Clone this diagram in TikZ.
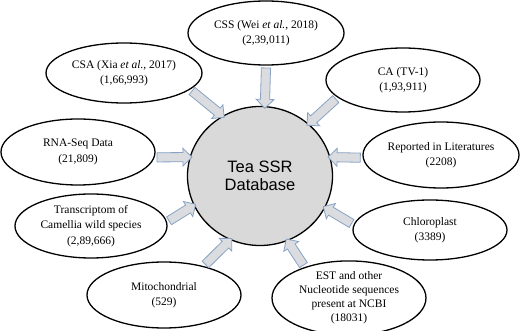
\documentclass[tikz,border=0pt]{standalone}
\usepackage{fontspec}
\setmainfont{Liberation Serif}
\newfontfamily\arialf{Liberation Sans}
\usetikzlibrary{shapes.geometric,shapes.arrows,calc}
\definecolor{dbfill}{RGB}{217,217,217}
\definecolor{arrfill}{RGB}{218,220,224}
\definecolor{arrline}{RGB}{136,162,196}
\tikzset{
 src/.style={ellipse, draw=black, line width=1.3pt, inner sep=0pt, align=center, font=\fontsize{11.5}{15.5}\selectfont},
 dbnode/.style={ellipse, draw=black, line width=1.3pt, fill=dbfill, minimum width=145pt, minimum height=139pt, inner sep=0pt, align=center, font=\arialf\fontsize{16.5}{17.5}\selectfont},
 barrow/.style={single arrow, draw=arrline, fill=arrfill, line width=0.8pt, text height=4.2pt, text depth=4.2pt, single arrow head extend=4.3pt, single arrow head indent=0pt, inner sep=0pt, anchor=center}
}
\newcommand{\blockarr}[2]{\path let \p1=(#1), \p2=(#2), \n1={atan2(\y2-\y1,\x2-\x1)}, \n2={veclen(\x2-\x1,\y2-\y1)} in node[barrow, minimum height=\n2, rotate=\n1] at ($(#1)!0.5!(#2)$) {};}
\begin{document}
\begin{tikzpicture}[x=1pt,y=-1pt]
\useasboundingbox (0,0) rectangle (520,331);
\node[dbnode] (db) at (260,176) {Tea SSR\\Database};
\node[src, minimum width=156pt, minimum height=64pt] (css) at (266,33) {CSS (Wei \textit{et al.}, 2018)\\(2,39,011)};
\node[src, minimum width=156pt, minimum height=60pt] (csa) at (124,73) {CSA (Xia \textit{et al.}, 2017)\\(1,66,993)};
\node[src, minimum width=154pt, minimum height=64pt] (ca) at (403,80) {CA (TV-1)\\(1,93,911)};
\node[src, minimum width=154pt, minimum height=66pt] (rna) at (78,152) {RNA-Seq Data\\(21,809)};
\node[src, minimum width=156pt, minimum height=66pt] (rep) at (441,155) {Reported in Literatures\\(2208)};
\node[src, minimum width=152pt, minimum height=64pt] (trans) at (91,226) {Transcriptom of\\Camellia wild species\\(2,89,666)};
\node[src, minimum width=154pt, minimum height=60pt] (chl) at (430,230) {Chloroplast\\(3389)};
\node[src, minimum width=154pt, minimum height=66pt] (mito) at (164,295) {Mitochondrial\\(529)};
\node[src, minimum width=154pt, minimum height=66pt, font=\fontsize{11.5}{14}\selectfont] (est) at (349,298) {EST and other\\Nucleotide sequences\\present at NCBI\\(18031)};
\blockarr{css.-90}{db.86}
\blockarr{csa.-14}{db.122}
\blockarr{ca.195}{db.47}
\blockarr{rna.-4}{db.165}
\blockarr{rep.182}{db.15}
\blockarr{trans.3}{db.204}
\blockarr{chl.176}{db.-26}
\blockarr{mito.36}{db.245}
\blockarr{est.145}{db.-67}
\end{tikzpicture}
\end{document}
